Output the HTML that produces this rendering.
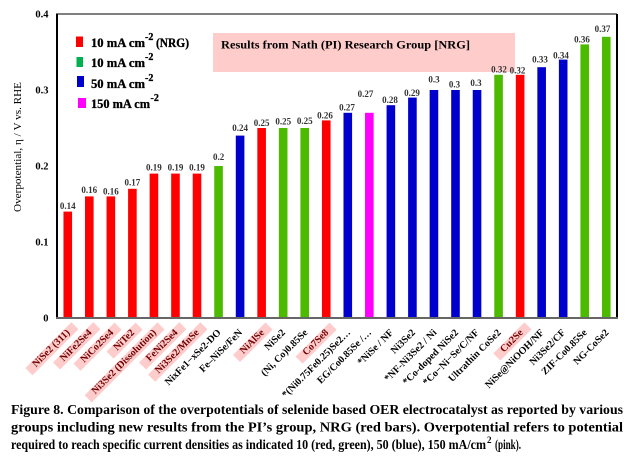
<!DOCTYPE html>
<html><head><meta charset="utf-8"><style>
html,body{margin:0;padding:0;background:#fff;}
#c{position:relative;width:634px;height:471px;overflow:hidden;background:#fff;}
svg{position:absolute;left:0;top:0;}
.xl{position:absolute;top:321px;font-family:"Liberation Serif",serif;font-weight:bold;font-size:10px;line-height:10px;padding:0 8px;white-space:nowrap;transform-origin:100% 50%;transform:rotate(-45deg);color:#000;}
.hl{background:#FFCCCC;color:#700000;}
</style></head><body><div id="c">
<svg width="634" height="471" viewBox="0 0 634 471" xmlns="http://www.w3.org/2000/svg" font-family="Liberation Serif, serif">
<!-- pink title box -->
<rect x="213" y="33" width="302" height="39" fill="#FFCCCC"/>
<text x="221" y="48.5" font-size="12" font-weight="bold" textLength="249" lengthAdjust="spacingAndGlyphs">Results from Nath (PI) Research Group  [NRG]</text>
<!-- frame -->
<line x1="57" y1="14" x2="617" y2="14" stroke="#000" stroke-width="1"/>
<line x1="617" y1="14" x2="617" y2="319" stroke="#000" stroke-width="2"/>
<!-- bars -->
<g>
<rect x="63.47" y="211.6" width="8.6" height="106.4" fill="#FF0000"/>
<rect x="85.01" y="196.4" width="8.6" height="121.6" fill="#FF0000"/>
<rect x="106.55" y="196.4" width="8.6" height="121.6" fill="#FF0000"/>
<rect x="128.09" y="188.8" width="8.6" height="129.2" fill="#FF0000"/>
<rect x="149.63" y="173.6" width="8.6" height="144.4" fill="#FF0000"/>
<rect x="171.17" y="173.6" width="8.6" height="144.4" fill="#FF0000"/>
<rect x="192.71" y="173.6" width="8.6" height="144.4" fill="#FF0000"/>
<rect x="214.25" y="166" width="8.6" height="152" fill="#4CBB00"/>
<rect x="235.79" y="135.6" width="8.6" height="182.4" fill="#0000CC"/>
<rect x="257.33" y="128" width="8.6" height="190" fill="#FF0000"/>
<rect x="278.87" y="128" width="8.6" height="190" fill="#4CBB00"/>
<rect x="300.41" y="128" width="8.6" height="190" fill="#4CBB00"/>
<rect x="321.95" y="120.4" width="8.6" height="197.6" fill="#FF0000"/>
<rect x="343.49" y="112.8" width="8.6" height="205.2" fill="#0000CC"/>
<rect x="365.03" y="112.8" width="8.6" height="205.2" fill="#FF00FF"/>
<rect x="386.57" y="105.2" width="8.6" height="212.8" fill="#0000CC"/>
<rect x="408.11" y="97.6" width="8.6" height="220.4" fill="#0000CC"/>
<rect x="429.65" y="90" width="8.6" height="228" fill="#0000CC"/>
<rect x="451.19" y="90" width="8.6" height="228" fill="#0000CC"/>
<rect x="472.73" y="90" width="8.6" height="228" fill="#0000CC"/>
<rect x="494.27" y="74.8" width="8.6" height="243.2" fill="#4CBB00"/>
<rect x="515.81" y="74.8" width="8.6" height="243.2" fill="#FF0000"/>
<rect x="537.35" y="67.2" width="8.6" height="250.8" fill="#0000CC"/>
<rect x="558.89" y="59.6" width="8.6" height="258.4" fill="#0000CC"/>
<rect x="580.43" y="44.4" width="8.6" height="273.6" fill="#4CBB00"/>
<rect x="601.97" y="36.8" width="8.6" height="281.2" fill="#4CBB00"/>
</g>
<!-- axes -->
<line x1="57" y1="13.5" x2="57" y2="319" stroke="#000" stroke-width="2"/>
<line x1="56" y1="318" x2="618" y2="318" stroke="#666" stroke-width="2"/>
<!-- y tick labels -->
<g font-size="10.5" font-weight="bold" text-anchor="end" fill="#000">
<text x="48.5" y="17.5">0.4</text>
<text x="48.5" y="93.5">0.3</text>
<text x="48.5" y="169.5">0.2</text>
<text x="48.5" y="245.5">0.1</text>
<text x="48.5" y="321.5">0</text>
</g>
<!-- y title -->
<text transform="translate(21,147) rotate(-90)" font-size="11" text-anchor="middle" textLength="130" lengthAdjust="spacingAndGlyphs">Overpotential, η / V vs. RHE</text>
<!-- value labels -->
<g font-size="9" font-weight="bold" text-anchor="middle" fill="#333">
<text x="67.8" y="209">0.14</text>
<text x="89.3" y="193">0.16</text>
<text x="110.9" y="194.5">0.16</text>
<text x="132.4" y="185.5">0.17</text>
<text x="153.9" y="170.5">0.19</text>
<text x="175.5" y="170.5">0.19</text>
<text x="197" y="170.5">0.19</text>
<text x="218.6" y="160">0.2</text>
<text x="240.1" y="131">0.24</text>
<text x="261.6" y="126">0.25</text>
<text x="283.2" y="124.3">0.25</text>
<text x="304.7" y="124">0.25</text>
<text x="325" y="118.3">0.26</text>
<text x="347" y="110.7">0.27</text>
<text x="365.5" y="97">0.27</text>
<text x="390" y="103">0.28</text>
<text x="412" y="96">0.29</text>
<text x="434" y="82.7">0.3</text>
<text x="454.5" y="87.3">0.3</text>
<text x="476" y="86">0.3</text>
<text x="499" y="72.7">0.32</text>
<text x="517.5" y="73.3">0.32</text>
<text x="540" y="62.7">0.33</text>
<text x="561" y="58.7">0.34</text>
<text x="582" y="42.7">0.36</text>
<text x="602.5" y="32">0.37</text>
</g>
<!-- legend -->
<rect x="76" y="36.5" width="7" height="10.5" fill="#FF0000"/>
<rect x="76.5" y="57" width="6.5" height="10" fill="#00B050"/>
<rect x="77" y="76" width="7" height="11" fill="#0000CC"/>
<rect x="78" y="98" width="8" height="10" fill="#FF00FF"/>
<g font-size="12.5" font-weight="bold" fill="#000" stroke="#000" stroke-width="0.3">
<text x="91" y="47" textLength="54" lengthAdjust="spacingAndGlyphs">10 mA cm</text><text x="145" y="40" font-size="10">-2</text><text x="156" y="47" textLength="33" lengthAdjust="spacingAndGlyphs">(NRG)</text>
<text x="91" y="67" textLength="54" lengthAdjust="spacingAndGlyphs">10 mA cm</text><text x="145" y="60" font-size="10">-2</text>
<text x="91" y="88" textLength="54" lengthAdjust="spacingAndGlyphs">50 mA cm</text><text x="145" y="81" font-size="10">-2</text>
<text x="91" y="108" textLength="59" lengthAdjust="spacingAndGlyphs">150 mA cm</text><text x="150.5" y="101" font-size="10">-2</text>
</g>
<!-- caption -->
<g font-size="14" font-weight="bold" fill="#000">
<text x="11" y="414" textLength="612" lengthAdjust="spacingAndGlyphs">Figure 8. Comparison of the overpotentials  of selenide based OER electrocatalyst as reported by various</text>
<text x="11" y="431.5" textLength="612" lengthAdjust="spacingAndGlyphs">groups  including  new results  from the PI’s group,  NRG  (red bars). Overpotential  refers to potential</text>
<text x="11" y="449" textLength="475" lengthAdjust="spacingAndGlyphs">required to reach specific current densities as indicated 10 (red, green), 50 (blue), 150 mA/cm</text>
<text x="487" y="443" font-size="9">2</text>
<text x="495" y="449" textLength="26" lengthAdjust="spacingAndGlyphs">(pink).</text>
</g>
</svg>
<!-- x labels -->
<div class="xl hl" style="right:559px">NiSe2 (311)</div>
<div class="xl hl" style="right:537.5px">NiFe2Se4</div>
<div class="xl hl" style="right:516px">NiCo2Se4</div>
<div class="xl hl" style="right:494.4px">NiTe2</div>
<div class="xl hl" style="right:472.9px">Ni3Se2 (Dissolution)</div>
<div class="xl hl" style="right:451.3px">FeNi2Se4</div>
<div class="xl hl" style="right:429.8px">Ni3Se2/MnSe</div>
<div class="xl" style="right:408.2px">NixFe1−xSe2-DO</div>
<div class="xl" style="right:386.7px">Fe–NiSe/FeN</div>
<div class="xl hl" style="right:365.2px">NiAlSe</div>
<div class="xl" style="right:343.6px">NiSe2</div>
<div class="xl" style="right:322.1px">(Ni, Co)0.85Se</div>
<div class="xl hl" style="right:300.5px">Co7Se8</div>
<div class="xl" style="right:279px">*(Ni0.75Fe0.25)Se2…</div>
<div class="xl" style="right:257.5px">EG/Co0.85Se /…</div>
<div class="xl" style="right:235.9px">*NiSe / NF</div>
<div class="xl" style="right:214.4px">Ni3Se2</div>
<div class="xl" style="right:192.8px">*NF-Ni3Se2 / Ni</div>
<div class="xl" style="right:171.3px">*Co-doped NiSe2</div>
<div class="xl" style="right:149.8px">*Co−Ni−Se/C/NF</div>
<div class="xl" style="right:128.2px">Ultrathin CoSe2</div>
<div class="xl hl" style="right:106.7px">Cu2Se</div>
<div class="xl" style="right:85.1px">NiSe@NiOOH/NF</div>
<div class="xl" style="right:63.6px">Ni3Se2/CF</div>
<div class="xl" style="right:42.1px">ZIF-Co0.85Se</div>
<div class="xl" style="right:20.5px">NG-CoSe2</div>
</div></body></html>
